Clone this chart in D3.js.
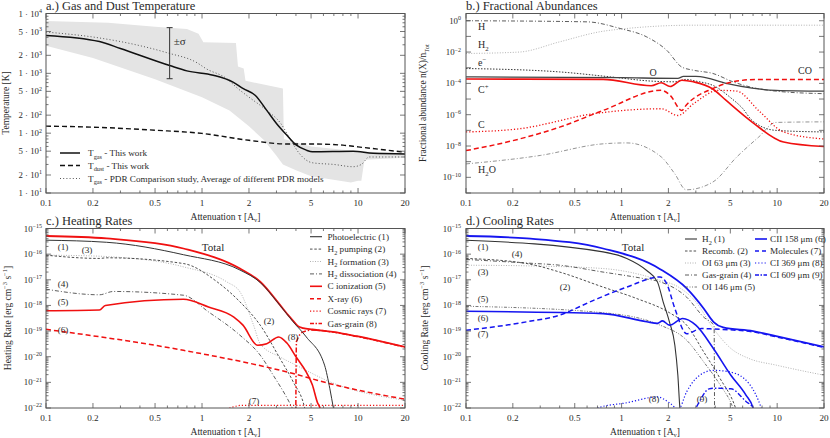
<!DOCTYPE html>
<html><head><meta charset="utf-8">
<script src="https://cdn.jsdelivr.net/npm/d3@7"></script>
<style>
body{margin:0;background:#fff}
svg{display:block}
svg text{font-family:'Liberation Serif','DejaVu Serif',serif;fill:#2a2a2a}
</style>
</head><body>
<svg id="c" width="830" height="438" font-family="'Liberation Serif', 'DejaVu Serif', serif"></svg>
<script>
// ---------------- DATA ----------------
const xMajorTicks = [0.1, 0.2, 0.5, 1, 2, 5, 10, 20];
const xMinorTicks = [0.3, 0.4, 0.6, 0.7, 0.8, 0.9, 3, 4, 6, 7, 8, 9];
const xTickLabels = ["0.1", "0.2", "0.5", "1", "2", "5", "10", "20"];

// Panel a: temperatures [Av, K]
const tGas = [[0.1,4300],[0.22,3400],[0.3,2600],[0.62,1350],[0.8,1100],[1.18,930],[1.58,715],[1.84,555],[2.19,430],[2.6,240],[3.0,145],[3.49,93],[4.03,63],[4.66,52],[5.1,49],[9.3,50],[12.5,46],[20,45]];
const tDust = [[0.1,131],[0.2,126],[0.5,112],[1,99],[2,76],[3.5,66],[5,66],[8,63],[10,59],[20,48]];
const tPdr = [[0.1,4900],[0.22,3900],[0.4,2900],[0.6,2200],[0.93,1500],[1.06,1200],[1.44,815],[1.7,555],[2.0,400],[2.6,240],[3.2,145],[3.7,77],[4.2,46],[5.1,32],[7,30],[9.3,27.5],[10.5,30],[11.8,40],[20,40]];
const bandHigh = [[0.1,7500],[0.25,7000],[0.5,6000],[0.8,5500],[0.95,4600],[1.02,3300],[1.65,3200],[1.7,1300],[1.85,1200],[1.9,750],[3.3,560],[3.35,80],[5,60],[10,50],[20,46]];
const bandLow = [[0.1,2900],[0.2,1800],[0.5,800],[1,400],[1.5,240],[2,130],[2.5,76],[3,42],[3.3,30],[4,24],[5,19],[9,15],[10,16],[10.5,16],[11,36],[20,39]];
const sigmaBar = {x: 0.62, lo: 813, hi: 5800};
const tempTicks = [[10,"1","1"],[20,"2","1"],[50,"5","1"],[100,"1","2"],[200,"2","2"],[500,"5","2"],[1000,"1","3"],[2000,"2","3"],[5000,"5","3"],[10000,"1","4"]];

// Panel b: fractional abundances [Av, n(X)/nTot]
const abH   = [[0.1,1.0],[0.6,0.85],[0.98,0.32],[1.45,0.093],[1.95,0.013],[2.44,1.1e-3],[2.9,6.9e-4],[3.86,4.3e-4],[5.2,1.26e-4],[6.9,5.5e-5],[9.8,3.2e-5],[20,2.2e-5]];
const abH2  = [[0.1,8.1e-3],[0.22,1.0e-2],[0.4,4.5e-2],[0.73,0.2],[1.08,0.32],[1.77,0.46],[2.9,0.52],[20,0.52]];
const abE   = [[0.1,8.9e-4],[0.4,5.4e-4],[0.85,2.6e-4],[1.55,1.4e-4],[2.2,1.26e-4],[2.6,1.8e-4],[3.0,1.4e-4],[4.0,6.3e-5],[5.0,1.26e-5],[6.0,2.5e-6],[6.9,4.3e-7],[9.8,1.0e-7],[20,7.9e-8]];
const abO   = [[0.1,2.6e-4],[1.0,2.3e-4],[2.3,2.1e-4],[2.5,2.8e-4],[3.0,2.8e-4],[3.2,2.7e-4],[4.7,1.0e-4],[6.9,5.0e-5],[9.8,3.6e-5],[20,3.2e-5]];
const abCp  = [[0.1,1.9e-4],[0.76,1.8e-4],[1.55,7.1e-5],[1.8,1.1e-4],[2.05,6.3e-5],[2.44,1.6e-4],[2.9,1.26e-4],[3.86,4.4e-5],[4.7,8.1e-6],[6.9,3.4e-7],[11,1.8e-8],[20,9.3e-9]];
const abCO  = [[0.1,5.1e-9],[0.22,2.8e-8],[0.4,1.6e-7],[0.76,1.86e-6],[1.8,3.6e-5],[2.05,1.74e-5],[2.44,1.86e-6],[2.6,4e-6],[3.86,4.7e-5],[5.5,1.4e-4],[7.6,1.8e-4],[20,1.8e-4]];
const abC   = [[0.1,7.9e-8],[0.22,1.26e-7],[0.66,1.15e-6],[1.8,2.4e-6],[2.3,8.9e-7],[2.9,5.0e-6],[4.2,3.6e-5],[5.5,3.2e-5],[7.6,1.86e-6],[11,7.9e-8],[20,2.8e-8]];
const abH2O = [[0.1,7.2e-10],[0.3,2.5e-9],[0.76,1.38e-8],[1.08,1.58e-8],[1.8,2.0e-9],[2.2,1.66e-10],[2.6,1.6e-11],[3.86,5.0e-11],[5.5,2.0e-9],[7.6,3.7e-8],[9.8,3.2e-7],[20,3.5e-7]];
const abDecades = [0,-1,-2,-3,-4,-5,-6,-7,-8,-9,-10,-11];

// Panel c: heating rates [Av, erg cm^-3 s^-1]
const heatTotal = [[0.1,5.1e-16],[0.245,4.1e-16],[0.76,1.66e-16],[1.75,2.75e-17],[2.36,8.4e-18],[3.16,1.05e-18],[3.6,3.9e-19],[3.84,2.5e-19],[4.1,1.6e-19],[4.45,1.3e-19],[5.1,1.15e-19],[6.9,9.3e-20],[9.8,6.3e-20],[20,2.4e-20]];
const heatPhoto = [[0.1,3.5e-16],[0.245,2.9e-16],[0.76,9.5e-17],[1.75,2.4e-17],[2.36,7.9e-18],[3.16,1.0e-18],[3.84,2.3e-19],[4.66,5.9e-20],[6.1,4.7e-21],[6.6,5.6e-22],[6.95,1e-22],[7.1,5e-23]];
const heatH2Pump = [[0.1,9.1e-17],[0.22,6.8e-17],[0.245,7.2e-17],[0.76,4.3e-17],[1.25,8.3e-18],[1.75,1.38e-18],[2.36,1.7e-19],[3.16,8.5e-21],[3.84,1.05e-21],[4.55,1e-22],[4.7,4e-23]];
const heatH2Form = [[0.1,9.1e-17],[0.2,8.5e-17],[0.25,8.0e-17],[0.76,3.2e-17],[1.44,8.3e-18],[1.75,3.4e-18],[2.14,1.7e-19],[2.36,3.2e-20],[3.16,9.8e-21],[4.0,4.7e-21],[6.6,1.05e-21],[20,2.0e-22]];
const heatH2Diss = [[0.1,4.3e-18],[0.22,2.6e-18],[0.27,3.5e-18],[0.76,2.5e-18],[1.1,5.6e-19],[1.75,6.9e-20],[2.36,1.15e-20],[2.86,1.9e-21],[3.5,2.5e-22],[3.86,8e-23]];
const heatCIon = [[0.1,6.2e-19],[0.22,6.6e-19],[0.24,1.0e-18],[0.76,1.74e-18],[1.1,8.7e-19],[1.6,3.5e-19],[1.83,1.7e-19],[2.27,2.8e-20],[2.6,3.2e-20],[3.1,5.9e-20],[3.5,3.4e-20],[4.0,1.0e-20],[4.66,2.5e-21],[5.1,7.9e-22],[5.5,1.6e-22],[5.7,1e-22],[5.8,5e-23]];
const heatXray = [[0.1,1.17e-19],[0.76,1.78e-20],[3.84,2.2e-21],[6.6,8.9e-22],[20,2.2e-22]];
const heatCosmic = [[1.2,6e-23],[1.5,1.0e-22],[1.8,1.27e-22],[20,1.27e-22]];
const heatGasGrain = [[3.99,5e-23],[4.03,3.8e-20],[4.45,9.3e-20],[5.1,1.1e-19],[6.9,9.1e-20],[9.8,6.2e-20],[20,2.35e-20]];

// Panel d: cooling rates
const coolTotal = [[0.1,5.1e-16],[0.246,4.1e-16],[0.76,1.66e-16],[1.77,2.6e-17],[2.62,4.6e-18],[3.37,7.6e-19],[3.89,2.3e-19],[4.5,1.38e-19],[7.0,1.0e-19],[9.85,6.3e-20],[20,2.4e-20]];
const coolH2 = [[0.1,3.5e-16],[0.76,1.23e-16],[1.08,6.8e-17],[1.45,2.3e-17],[1.7,8.3e-18],[1.85,1.38e-18],[2.03,2.3e-19],[2.2,2.8e-20],[2.3,1.9e-21],[2.37,1e-22],[2.4,5e-23]];
const coolRecomb = [[0.1,6.8e-17],[0.246,4.3e-17],[0.4,2.0e-17],[0.76,5.2e-18],[1.25,1.86e-18],[2.03,5.2e-19],[2.62,1.7e-19],[3.37,1.55e-20],[4.3,1.4e-21],[5.4,1e-22],[5.6,5e-23]];
const coolOI63 = [[0.1,3.7e-17],[0.246,3.5e-17],[0.76,2.75e-17],[1.77,9.5e-18],[2.32,5.2e-18],[3.0,1.38e-18],[3.89,1.26e-19],[5.04,2.1e-20],[6.6,8.5e-21],[9.85,4.7e-21],[20,1.9e-21]];
const coolGasGrain = [[0.1,6.2e-17],[0.246,4.5e-17],[0.4,3.7e-17],[0.76,2.0e-17],[1.38,1.12e-17],[1.77,8.3e-18],[2.62,2.1e-18],[3.37,3.5e-19],[3.93,1.6e-19],[3.96,5e-23]];
const coolOI146 = [[0.1,9.3e-19],[0.76,5.2e-19],[1.77,1.7e-19],[2.62,4.4e-20],[3.37,6.3e-21],[4.3,7.9e-22],[5.2,1e-22],[5.4,5e-23]];
const coolCII = [[0.1,5.9e-19],[0.76,4.8e-19],[1.45,2.3e-19],[1.7,2.0e-19],[1.83,2.5e-19],[2.03,1.7e-19],[2.47,3.1e-19],[3.0,1.7e-19],[3.89,2.1e-20],[5.04,1.9e-21],[6.3,3.2e-22],[7.0,1e-22],[7.2,5e-23]];
const coolMolec = [[0.1,1.07e-19],[0.246,2.3e-19],[0.4,4.2e-19],[0.66,1.58e-18],[1.08,5.2e-18],[1.77,1.29e-17],[1.95,7.1e-18],[2.2,7.6e-19],[2.62,7.9e-20],[3.27,1.26e-19],[3.89,1.2e-19],[7.0,9.3e-20],[9.85,6.0e-20],[20,2.3e-20]];
const coolCI369 = [[0.6,5e-23],[0.7,1e-22],[1.08,1.6e-22],[1.7,2.7e-22],[2.03,1.6e-22],[2.32,9e-23],[2.62,4.3e-22],[3.0,1.4e-21],[3.89,2.95e-21],[5.04,2.5e-21],[6.6,8.9e-22],[7.9,1e-22],[8.2,5e-23]];
const coolCI609 = [[2.8,5e-23],[3.0,1e-22],[3.65,5.6e-22],[3.89,5.9e-22],[5.04,5.6e-22],[6.3,1.8e-22],[7.0,1e-22],[7.2,5e-23]];
const rateDecades = [-15,-16,-17,-18,-19,-20,-21,-22];

// ---------------- STYLES ----------------
const RED = "#f01010", BLUE = "#1515f0";
const FRAME = "#555";
const FONT = "'Liberation Serif', 'DejaVu Serif', serif";
const FS = 9.2;
const svg = d3.select("#c");

function rich(sel, parts, size) {
  let shift = 0;
  parts.forEach(p => {
    const t = typeof p === "string" ? p : p[0];
    const m = typeof p === "string" ? 0 : p[1];
    const target = m === 1 ? -0.4 * size : (m === -1 ? 0.28 * size : 0);
    const ts = sel.append("tspan").text(t);
    if (target - shift !== 0) ts.attr("dy", (target - shift).toFixed(2));
    if (m) ts.attr("font-size", (size * 0.68).toFixed(1));
    shift = target;
  });
}
function txt(parent) {
  return parent.append("text").attr("font-family", FONT);
}

let clipId = 0;
function makePanel(o) {
  const x = d3.scaleLog().domain([0.1, 20]).range([o.l, o.r]);
  const y = d3.scaleLog().domain(o.yd).range([o.b, o.t]);
  const g = svg.append("g");
  const id = "clip" + (clipId++);
  svg.append("clipPath").attr("id", id).append("rect")
    .attr("x", o.l).attr("y", o.t).attr("width", o.r - o.l).attr("height", o.b - o.t);
  const gc = g.append("g").attr("clip-path", `url(#${id})`);
  const axes = g.append("g");
  return {x, y, g, gc, axes, o};
}

function drawFrame(P, yMajor, yMinor) {
  const {x, y, axes, o} = P;
  const tk = axes.append("g").attr("stroke", FRAME).attr("stroke-width", 0.8);
  const tick = (x1, y1, x2, y2) => tk.append("line").attr("x1", x1).attr("y1", y1).attr("x2", x2).attr("y2", y2);
  xMajorTicks.forEach(v => { const px = x(v); tick(px, o.b, px, o.b - 5); tick(px, o.t, px, o.t + 5); });
  xMinorTicks.forEach(v => { const px = x(v); tick(px, o.b, px, o.b - 2.5); tick(px, o.t, px, o.t + 2.5); });
  yMajor.forEach(v => { const py = y(v); tick(o.l, py, o.l + 5, py); tick(o.r, py, o.r - 5, py); });
  yMinor.forEach(v => { const py = y(v); tick(o.l, py, o.l + 2.5, py); tick(o.r, py, o.r - 2.5, py); });
  axes.append("rect").attr("x", o.l).attr("y", o.t).attr("width", o.r - o.l).attr("height", o.b - o.t)
    .attr("fill", "none").attr("stroke", FRAME).attr("stroke-width", 1);
  xMajorTicks.forEach((v, i) => {
    txt(axes).attr("x", x(v)).attr("y", o.b + 12.5).attr("text-anchor", "middle")
      .attr("font-size", 9.2).text(xTickLabels[i]);
  });
  const xl = txt(axes).attr("x", (o.l + o.r) / 2).attr("y", o.b + 26.5)
    .attr("text-anchor", "middle").attr("font-size", 9.5);
  rich(xl, ["Attenuation \u03C4 [A", ["v", -1], "]"], 9.5);
}

function lineGen(P) {
  return d3.line().x(d => P.x(d[0])).y(d => P.y(Math.max(d[1], 1e-30))).curve(d3.curveMonotoneX);
}
function drawLine(P, data, stroke, width, dash) {
  P.gc.append("path").attr("d", lineGen(P)(data)).attr("fill", "none")
    .attr("stroke", stroke).attr("stroke-width", width)
    .attr("stroke-dasharray", dash || null).attr("stroke-linejoin", "round");
}
function label(P, xv, yv, parts, size, anchor) {
  const t = txt(P.g).attr("x", xv).attr("y", yv).attr("font-size", size)
    .attr("text-anchor", anchor || "start");
  rich(t, parts, size);
  return t;
}
function title(s, xv, yv) {
  txt(svg).attr("x", xv).attr("y", yv).attr("font-size", 12.5).text(s);
}
function ylabel(xv, yv, parts) {
  const t = txt(svg).attr("transform", `translate(${xv},${yv}) rotate(-90)`)
    .attr("text-anchor", "middle").attr("font-size", 9.5);
  rich(t, parts, 9.5);
}

const DASHDOT = "4,2,1,2", DOTDASH2 = "3,1.5,1,1.5,1,1.5";

// ================= PANEL A =================
{
  const P = makePanel({l: 46, r: 405, t: 13.5, b: 193, yd: [10, 10000]});
  const poly = bandHigh.concat(bandLow.slice().reverse());
  P.gc.append("path").attr("d", d3.line().x(d => P.x(d[0])).y(d => P.y(d[1]))(poly) + "Z")
    .attr("fill", "#e4e4e4").attr("stroke", "none");
  drawLine(P, tPdr, "#444", 0.9, "1,2.2");
  drawLine(P, tDust, "#111", 1.4, "5,3");
  drawLine(P, tGas, "#111", 1.5);
  const sx = P.x(sigmaBar.x);
  const eb = P.g.append("g").attr("stroke", "#333").attr("stroke-width", 1);
  eb.append("line").attr("x1", sx).attr("x2", sx).attr("y1", P.y(sigmaBar.hi)).attr("y2", P.y(sigmaBar.lo));
  eb.append("line").attr("x1", sx - 3).attr("x2", sx + 3).attr("y1", P.y(sigmaBar.hi)).attr("y2", P.y(sigmaBar.hi));
  eb.append("line").attr("x1", sx - 3).attr("x2", sx + 3).attr("y1", P.y(sigmaBar.lo)).attr("y2", P.y(sigmaBar.lo));
  label(P, sx + 4, 45, ["\u00B1\u03C3"], 11);
  const yMinor = [];
  for (let e = 1; e < 4; e++) [3,4,6,7,8,9].forEach(m => yMinor.push(m * Math.pow(10, e)));
  drawFrame(P, tempTicks.map(d => d[0]), yMinor);
  tempTicks.forEach(d => {
    const t = txt(P.axes).attr("x", 42).attr("y", P.y(d[0]) + 3).attr("text-anchor", "end").attr("font-size", 8.8);
    rich(t, [d[1] + " \u00B7 10", [d[2], 1]], 8.8);
  });
  const lg = [[153, null, 1.5, ["T", ["gas", -1], " - This work"]],
              [165.5, "5,3", 1.4, ["T", ["dust", -1], " - This work"]],
              [178.5, "1,2.2", 0.9, ["T", ["gas", -1], " - PDR Comparison study, Average of different PDR models"]]];
  lg.forEach(r => {
    P.g.append("line").attr("x1", 60).attr("x2", 80).attr("y1", r[0]).attr("y2", r[0])
      .attr("stroke", r[1] === "1,2.2" ? "#444" : "#111").attr("stroke-width", r[2]).attr("stroke-dasharray", r[1]);
    label(P, 88, r[0] + 3, r[3], FS);
  });
  title("a.) Gas and Dust Temperature", 46, 10);
  ylabel(9, 103, ["Temperature [K]"]);
}

// ================= PANEL B =================
{
  const P = makePanel({l: 466, r: 824, t: 13.5, b: 193, yd: [1e-11, 2.9]});
  drawLine(P, abH2, "#aaa", 0.9, "1,1.6");
  drawLine(P, abH, "#333", 0.8, DASHDOT);
  drawLine(P, abE, "#222", 0.9, "1.5,1.5");
  drawLine(P, abH2O, "#777", 0.8, DASHDOT);
  drawLine(P, abO, "#444", 1.3);
  drawLine(P, abC, RED, 1.3, "1.2,2");
  drawLine(P, abCO, RED, 1.5, "5,3");
  drawLine(P, abCp, RED, 1.6);
  const yMaj = abDecades.map(e => Math.pow(10, e));
  drawFrame(P, yMaj, []);
  abDecades.filter(e => e % 2 === 0 && e >= -10).forEach(e => {
    const t = txt(P.axes).attr("x", 461).attr("y", P.y(Math.pow(10, e)) + 3).attr("text-anchor", "end").attr("font-size", 8.8);
    rich(t, ["10", [e === 0 ? "0" : "\u2212" + (-e), 1]], 8.8);
  });
  label(P, 478, 30, ["H"], 10);
  label(P, 478, 48, ["H", ["2", -1]], 10);
  label(P, 478, 66, ["e", ["\u2212", 1]], 10);
  label(P, 478, 93, ["C", ["+", 1]], 10);
  label(P, 478, 128, ["C"], 10);
  label(P, 478, 173, ["H", ["2", -1], "O"], 10);
  label(P, 653, 76, ["O"], 10, "middle");
  label(P, 805, 74, ["CO"], 10, "middle");
  title("b.) Fractional Abundances", 466, 10);
  ylabel(426, 103, ["Fractional abundance n(X)/n", ["Tot", -1]]);
}

// ================= PANEL C =================
function rateTicks(P, xEnd) {
  const yMaj = rateDecades.map(e => Math.pow(10, e));
  const yMin = [];
  rateDecades.slice(1).forEach(e => { for (let m = 2; m <= 9; m++) yMin.push(m * Math.pow(10, e)); });
  drawFrame(P, yMaj, yMin);
  rateDecades.forEach(e => {
    const t = txt(P.axes).attr("x", xEnd).attr("y", P.y(Math.pow(10, e)) + 3).attr("text-anchor", "end").attr("font-size", 8.8);
    rich(t, ["10", ["\u2212" + (-e), 1]], 8.8);
  });
}
{
  const P = makePanel({l: 46, r: 405, t: 228.5, b: 408, yd: [1e-22, 1e-15]});
  drawLine(P, heatH2Form, "#aaa", 0.9, "1,1.5");
  drawLine(P, heatH2Pump, "#222", 0.8, "2.5,1.8");
  drawLine(P, heatH2Diss, "#333", 0.8, DASHDOT);
  drawLine(P, heatXray, RED, 1.5, "5,3");
  drawLine(P, heatCosmic, RED, 1.2, "1.2,2");
  drawLine(P, heatGasGrain, RED, 1.5, "5,2,1.5,2");
  drawLine(P, heatCIon, RED, 1.6);
  drawLine(P, heatTotal, RED, 1.8);
  drawLine(P, heatPhoto, "#333", 1.0);
  rateTicks(P, 42);
  const rows = [
    ["#333", 1.1, null, ["Photoelectric (1)"]],
    ["#222", 0.8, "2.5,1.8", ["H", ["2", -1], " pumping (2)"]],
    ["#aaa", 0.9, "1,1.5", ["H", ["2", -1], " formation (3)"]],
    ["#333", 0.8, DASHDOT, ["H", ["2", -1], " dissociation (4)"]],
    [RED, 1.6, null, ["C ionization (5)"]],
    [RED, 1.5, "4,3", ["X-ray (6)"]],
    [RED, 1.2, "1.2,2", ["Cosmic rays (7)"]],
    [RED, 1.5, "4,1.5,1.5,1.5", ["Gas-grain (8)"]]
  ];
  rows.forEach((r, i) => {
    const yy = 236.7 + i * 12.4;
    P.g.append("line").attr("x1", 310).attr("x2", 322).attr("y1", yy).attr("y2", yy)
      .attr("stroke", r[0]).attr("stroke-width", r[1]).attr("stroke-dasharray", r[2]);
    label(P, 327.5, yy + 3, r[3], FS);
  });
  label(P, 63, 250, ["(1)"], FS, "middle");
  label(P, 87, 253, ["(3)"], FS, "middle");
  label(P, 63, 287, ["(4)"], FS, "middle");
  label(P, 63, 305, ["(5)"], FS, "middle");
  label(P, 63, 333, ["(6)"], FS, "middle");
  label(P, 269, 324, ["(2)"], FS, "middle");
  label(P, 293, 340, ["(8)"], FS, "middle");
  label(P, 254, 403.5, ["(7)"], FS, "middle");
  label(P, 213, 251, ["Total"], 11, "middle");
  title("c.) Heating Rates", 46, 225);
  ylabel(11, 318, ["Heating Rate [erg cm", ["\u22123", 1], " s", ["\u22121", 1], "]"]);
}

// ================= PANEL D =================
{
  const P = makePanel({l: 466, r: 824, t: 228.5, b: 408, yd: [1e-22, 1e-15]});
  drawLine(P, coolOI63, "#aaa", 0.9, "1,1.5");
  drawLine(P, coolOI146, "#555", 0.8, DOTDASH2);
  drawLine(P, coolGasGrain, "#333", 0.8, DASHDOT);
  drawLine(P, coolRecomb, "#222", 0.8, "2.5,1.8");
  drawLine(P, coolH2, "#333", 1.1);
  drawLine(P, coolCI369, BLUE, 1.2, "1.2,2");
  drawLine(P, coolCI609, BLUE, 1.4, "5,2,1.5,2");
  drawLine(P, coolMolec, BLUE, 1.5, "5,3");
  drawLine(P, coolCII, BLUE, 1.6);
  drawLine(P, coolTotal, BLUE, 1.8);
  rateTicks(P, 461);
  const rows = [
    [685, 702, 239, "#333", 1.1, null, ["H", ["2", -1], " (1)"]],
    [685, 702, 251, "#222", 0.8, "2.5,1.8", ["Recomb. (2)"]],
    [685, 702, 263, "#aaa", 0.9, "1,1.5", ["OI 63 \u03BCm (3)"]],
    [685, 702, 275, "#333", 0.8, DASHDOT, ["Gas-grain (4)"]],
    [685, 702, 287, "#555", 0.8, DOTDASH2, ["OI 146 \u03BCm (5)"]],
    [755, 770, 239, BLUE, 1.6, null, ["CII 158 \u03BCm (6)"]],
    [755, 770, 251, BLUE, 1.5, "4,3", ["Molecules (7)"]],
    [755, 770, 263, BLUE, 1.2, "1.2,2", ["CI 369 \u03BCm (8)"]],
    [755, 770, 275, BLUE, 1.4, "4,1.5,1.5,1.5", ["CI 609 \u03BCm (9)"]]
  ];
  rows.forEach(r => {
    P.g.append("line").attr("x1", r[0]).attr("x2", r[0] + 12).attr("y1", r[2]).attr("y2", r[2])
      .attr("stroke", r[3]).attr("stroke-width", r[4]).attr("stroke-dasharray", r[5]);
    label(P, r[1], r[2] + 3, r[6], FS);
  });
  label(P, 483, 250, ["(1)"], FS, "middle");
  label(P, 517, 257, ["(4)"], FS, "middle");
  label(P, 483, 275, ["(3)"], FS, "middle");
  label(P, 565, 290, ["(2)"], FS, "middle");
  label(P, 483, 302, ["(5)"], FS, "middle");
  label(P, 483, 321, ["(6)"], FS, "middle");
  label(P, 483, 337, ["(7)"], FS, "middle");
  label(P, 654, 402, ["(8)"], FS, "middle");
  label(P, 702, 401.5, ["(9)"], FS, "middle");
  label(P, 633, 251, ["Total"], 11, "middle");
  title("d.) Cooling Rates", 466, 225);
  ylabel(428, 318, ["Cooling Rate [erg cm", ["\u22123", 1], " s", ["\u22121", 1], "]"]);
}
</script>
</body></html>
